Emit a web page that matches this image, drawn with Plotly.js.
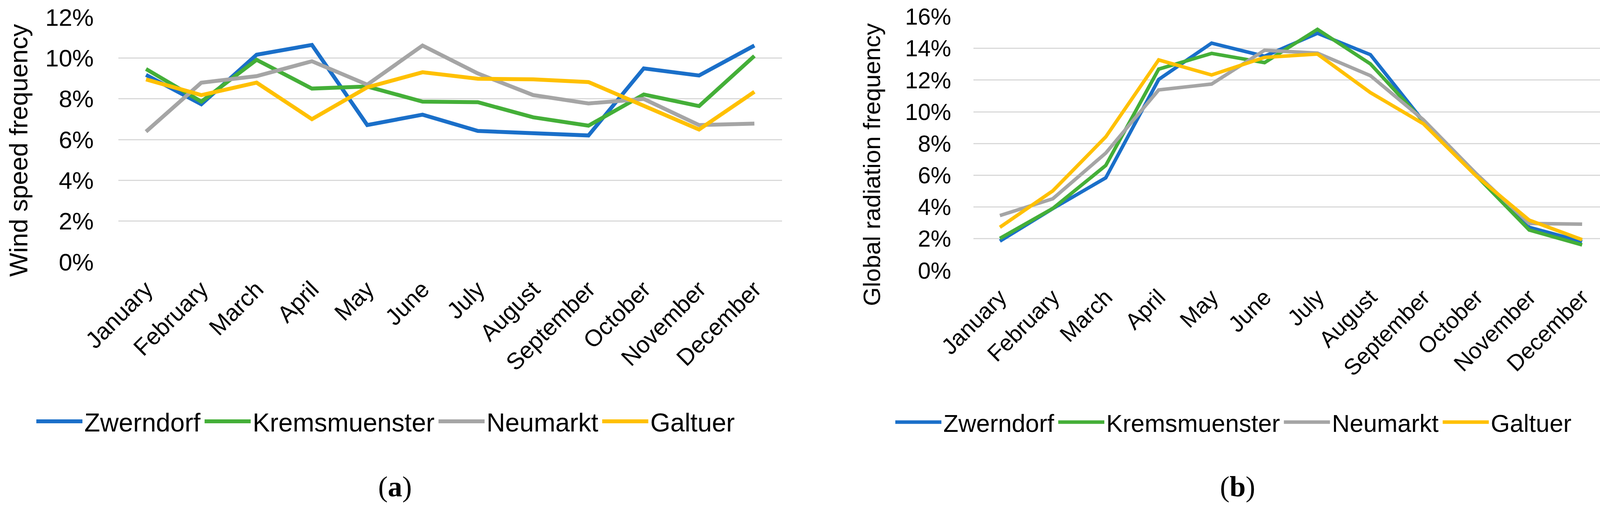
<!DOCTYPE html>
<html>
<head>
<meta charset="utf-8">
<script src="https://cdn.plot.ly/plotly-3.0.1.min.js"></script>
<style>
  html, body { margin: 0; padding: 0; background: #ffffff; }
  #chart { width: 4139px; height: 1310px; }
</style>
</head>
<body>
<div id="chart"></div>
<script>
// ---- Data (percent) ----
const months = ['January', 'February', 'March', 'April', 'May', 'June', 'July',
                'August', 'September', 'October', 'November', 'December'];
const stations = ['Zwerndorf', 'Kremsmuenster', 'Neumarkt', 'Galtuer'];

// (a) wind speed frequency
const windZwerndorf    = [9.17, 7.73, 10.16, 10.64, 6.71, 7.22, 6.42, 6.33, 6.20, 9.49, 9.14, 10.61];
const windKremsmuenster = [9.46, 7.86, 9.91, 8.50, 8.60, 7.86, 7.83, 7.09, 6.68, 8.21, 7.64, 10.10];
const windNeumarkt     = [6.39, 8.79, 9.11, 9.84, 8.69, 10.61, 9.24, 8.18, 7.77, 7.99, 6.71, 6.78];
const windGaltuer      = [8.95, 8.18, 8.79, 7.00, 8.56, 9.30, 8.98, 8.95, 8.82, 7.65, 6.49, 8.34];

// (b) global radiation frequency
const radZwerndorf     = [1.85, 3.90, 5.84, 12.04, 14.33, 13.50, 14.95, 13.60, 9.40, 6.00, 2.72, 1.82];
const radKremsmuenster = [2.02, 3.91, 6.62, 12.69, 13.68, 13.10, 15.20, 13.02, 9.40, 5.95, 2.55, 1.61];
const radNeumarkt      = [3.46, 4.52, 7.40, 11.38, 11.75, 13.88, 13.70, 12.28, 9.50, 6.10, 2.96, 2.92];
const radGaltuer       = [2.72, 5.02, 8.42, 13.27, 12.32, 13.43, 13.64, 11.21, 9.25, 5.95, 3.17, 1.94];

const colors = ['#1A6FC9', '#44AF38', '#A5A5A5', '#FFC000'];
const windSeries = [windZwerndorf, windKremsmuenster, windNeumarkt, windGaltuer];
const radSeries = [radZwerndorf, radKremsmuenster, radNeumarkt, radGaltuer];

const FONT = 'Liberation Sans, Arial, Helvetica, sans-serif';
const traces = [];
stations.forEach((name, i) => {
  traces.push({
    type: 'scatter', mode: 'lines', name: name, x: months, y: windSeries[i],
    xaxis: 'x', yaxis: 'y', legend: 'legend',
    line: { color: colors[i], width: 10 }
  });
});
stations.forEach((name, i) => {
  traces.push({
    type: 'scatter', mode: 'lines', name: name, x: months, y: radSeries[i],
    xaxis: 'x2', yaxis: 'y2', legend: 'legend2',
    line: { color: colors[i], width: 9 }
  });
});

const W = 4139, H = 1310;
const px = v => v / W;
const py = v => 1 - v / H;

const xCommon = {
  type: 'category', range: [-0.5, 11.5], showgrid: false, zeroline: false,
  showline: false, ticks: '', tickangle: -45, ticklabelstandoff: 22, fixedrange: true
};
const yCommon = {
  showgrid: true, gridcolor: '#D9D9D9', gridwidth: 3, zeroline: false,
  showline: false, ticks: '', ticksuffix: '%', fixedrange: true
};

const layout = {
  width: W, height: H, autosize: false,
  margin: { l: 0, r: 0, t: 0, b: 0, pad: 0 },
  paper_bgcolor: '#ffffff', plot_bgcolor: '#ffffff',
  font: { family: FONT, color: '#000000' },
  xaxis: Object.assign({}, xCommon, { domain: [px(303), px(2002)], anchor: 'y',
    tickfont: { family: FONT, size: 60, color: '#000000' } }),
  yaxis: Object.assign({}, yCommon, { domain: [py(670), py(44)], range: [0, 12], dtick: 2, anchor: 'x',
    ticklabelstandoff: 62, tickfont: { family: FONT, size: 62, color: '#000000' } }),
  xaxis2: Object.assign({}, xCommon, { domain: [px(2492), px(4118)], anchor: 'y2',
    tickfont: { family: FONT, size: 58, color: '#000000' } }),
  yaxis2: Object.assign({}, yCommon, { domain: [py(692), py(42.5)], range: [0, 16], dtick: 2, anchor: 'x2',
    ticklabelstandoff: 56, tickfont: { family: FONT, size: 59, color: '#000000' } }),
  legend: {
    orientation: 'h', x: px(88), xanchor: 'left', y: py(1078), yanchor: 'middle',
    font: { family: FONT, size: 66, color: '#000000' }, itemwidth: 118,
    bgcolor: 'rgba(0,0,0,0)', traceorder: 'normal'
  },
  legend2: {
    orientation: 'h', x: px(2287), xanchor: 'left', y: py(1080), yanchor: 'middle',
    font: { family: FONT, size: 63, color: '#000000' }, itemwidth: 118,
    bgcolor: 'rgba(0,0,0,0)', traceorder: 'normal'
  },
  annotations: [
    { text: 'Wind speed frequency', xref: 'paper', yref: 'paper', x: px(47), y: py(385),
      xanchor: 'center', yanchor: 'middle', textangle: -90, showarrow: false,
      font: { family: FONT, size: 65, color: '#000000' } },
    { text: 'Global radiation frequency', xref: 'paper', yref: 'paper', x: px(2231), y: py(421),
      xanchor: 'center', yanchor: 'middle', textangle: -90, showarrow: false,
      font: { family: FONT, size: 62, color: '#000000' } },
    { text: '(<b>a</b>)', xref: 'paper', yref: 'paper', x: px(1011), y: py(1245),
      xanchor: 'center', yanchor: 'middle', showarrow: false,
      font: { family: 'Liberation Serif, Times New Roman, serif', size: 74, color: '#000000' } },
    { text: '(<b>b</b>)', xref: 'paper', yref: 'paper', x: px(3168), y: py(1245),
      xanchor: 'center', yanchor: 'middle', showarrow: false,
      font: { family: 'Liberation Serif, Times New Roman, serif', size: 74, color: '#000000' } }
  ]
};

Plotly.newPlot('chart', traces, layout, { staticPlot: true, displayModeBar: false });
</script>
</body>
</html>
